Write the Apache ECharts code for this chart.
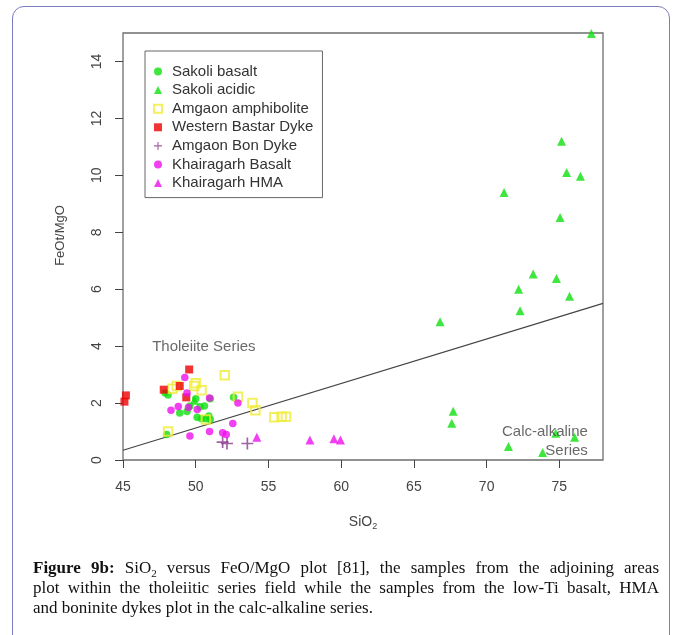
<!DOCTYPE html>
<html>
<head>
<meta charset="utf-8">
<script src="https://cdn.jsdelivr.net/npm/echarts@6/dist/echarts.min.js"></script>
<style>
  html, body { margin: 0; padding: 0; background: #fff; }
  #frame { position: absolute; left: 12px; top: 6px; width: 656px; height: 680px;
           border: 1px solid #7c7cc0; border-radius: 12px; }
  #chart { position: absolute; left: 0; top: 0; width: 678px; height: 635px; }
  #caption { position: absolute; left: 33px; top: 558px; width: 626px;
             font-family: 'Liberation Serif', serif; font-size: 17px; line-height: 20px; color: #111; }
  #caption .jl { text-align: justify; text-align-last: justify; }
  #caption sub { font-size: 11px; line-height: 0; vertical-align: -4px; }
</style>
</head>
<body>
<div id="frame"></div>
<div id="chart"></div>
<div id="caption">
  <div class="jl"><b>Figure 9b:</b> SiO<sub>2</sub> versus FeO/MgO plot [81], the samples from the adjoining areas</div>
  <div class="jl">plot within the tholeiitic series field while the samples from the low-Ti basalt, HMA</div>
  <div>and boninite dykes plot in the calc-alkaline series.</div>
</div>
<script>
  // axis ticks
  var xTicks = [45, 50, 55, 60, 65, 70, 75];
  var yTicks = [0, 2, 4, 6, 8, 10, 12, 14];

  // [SiO2, FeOt/MgO]
  var sakoliBasalt = [[47.9, 2.35], [48.1, 2.28], [48.9, 1.65], [49.4, 1.7], [49.6, 1.9],
    [50.1, 1.5], [50.4, 1.45], [50.6, 1.9], [50.7, 1.45], [51.0, 1.42], [51.0, 2.15],
    [50.0, 2.15], [52.6, 2.2], [48.0, 0.9], [50.3, 1.87], [50.9, 1.55]];
  var sakoliAcidic = [[77.2, 14.98], [75.15, 11.2], [75.5, 10.1], [76.45, 9.97], [71.2, 9.4],
    [75.05, 8.52], [73.2, 6.53], [74.8, 6.38], [72.2, 6.0], [75.7, 5.75], [72.3, 5.24],
    [66.8, 4.86], [67.7, 1.71], [67.6, 1.29], [71.5, 0.47], [73.85, 0.26], [74.75, 0.94],
    [76.05, 0.8], [49.9, 2.1]];
  var amgaonAmphibolite = [[48.1, 1.0], [48.4, 2.5], [48.7, 2.6], [49.9, 2.6], [50.0, 2.7],
    [50.4, 2.45], [50.7, 1.42], [52.0, 2.98], [52.9, 2.22], [53.9, 2.0], [54.1, 1.75],
    [55.4, 1.5], [55.9, 1.52], [56.2, 1.52]];
  var westernBastar = [[45.1, 2.05], [45.2, 2.27], [47.8, 2.47], [48.9, 2.6], [49.55, 3.18],
    [49.35, 2.2]];
  var amgaonBon = [[51.85, 0.63], [52.15, 0.58], [53.55, 0.58]];
  var khairagarhBasalt = [[49.25, 2.9], [49.4, 2.35], [48.3, 1.75], [48.8, 1.88], [49.5, 1.84],
    [50.1, 1.77], [50.95, 2.18], [52.9, 2.0], [52.55, 1.28], [50.95, 1.0], [49.6, 0.84],
    [51.85, 0.96], [52.1, 0.9]];
  var khairagarhHMA = [[54.2, 0.8], [57.85, 0.7], [59.5, 0.75], [59.95, 0.7]];

  // tholeiite / calc-alkaline divide
  var divideLine = [[45, 0.344], [78, 5.5]];

  var noteText = ['Tholeiite Series', 'Calc-alkaline', 'Series'];
  var notePos = [[50.56, 3.96], [76.96, 0.99], [76.96, 0.33]];

  var names = ['Sakoli basalt', 'Sakoli acidic', 'Amgaon amphibolite', 'Western Bastar Dyke',
    'Amgaon Bon Dyke', 'Khairagarh Basalt', 'Khairagarh HMA'];

  var font = 'Liberation Sans, Arial, sans-serif';
  var plusPath = 'path://M4.3,0H5.7V4.3H10V5.7H5.7V10H4.3V5.7H0V4.3H4.3Z';

  var chart = echarts.init(document.getElementById('chart'));

  function pts(name, data, symbol, size, style) {
    return {
      name: name,
      type: 'scatter',
      data: data,
      symbol: symbol,
      symbolSize: size,
      itemStyle: style,
      emphasis: { disabled: true }
    };
  }

  var option = {
    backgroundColor: 'transparent',
    animation: false,
    grid: { left: 123, right: 75, top: 33, bottom: 175, show: true,
      borderColor: '#6e6e6e', borderWidth: 1.3, backgroundColor: 'transparent' },
    xAxis: {
      type: 'value', min: 45, max: 78,
      axisLine: { show: false },
      splitLine: { show: false },
      axisTick: { show: true, length: 8, customValues: xTicks, lineStyle: { color: '#444' } },
      axisLabel: { customValues: xTicks, fontSize: 14, color: '#444', fontFamily: font, margin: 20 },
      name: 'SiO{s|2}', nameLocation: 'middle', nameGap: 54,
      nameTextStyle: { fontSize: 14, color: '#444', fontFamily: font,
        rich: { s: { fontSize: 9, color: '#444', fontFamily: font, padding: [8, 0, 0, 0] } } }
    },
    yAxis: {
      type: 'value', min: 0, max: 15,
      axisLine: { show: false },
      splitLine: { show: false },
      axisTick: { show: true, length: 8, customValues: yTicks, lineStyle: { color: '#444' } },
      axisLabel: { customValues: yTicks, fontSize: 14, color: '#444', fontFamily: font,
        rotate: 90, margin: 19 },
      name: 'FeOt/MgO', nameLocation: 'middle', nameGap: 56, nameRotate: 90,
      nameTextStyle: { fontSize: 13, color: '#444', fontFamily: font, padding: [0, 0, 0, 22] }
    },
    legend: {
      data: names,
      orient: 'vertical',
      left: 145, top: 51,
      padding: [13, 9, 7, 8],
      itemWidth: 8, itemHeight: 8, itemGap: 3.6,
      borderColor: '#666', borderWidth: 1,
      selectedMode: false,
      textStyle: { fontSize: 15, color: '#333', fontFamily: font, lineHeight: 14,
        padding: [0, 0, 0, 5] }
    },
    series: [
      {
        name: 'divide', type: 'line', data: divideLine, symbol: 'none', silent: true,
        lineStyle: { color: '#444', width: 1.2 }, z: 1
      },
      pts(names[0], sakoliBasalt, 'circle', 7.5, { color: '#10e010' }),
      pts(names[1], sakoliAcidic, 'triangle', 9, { color: '#10e010' }),
      pts(names[2], amgaonAmphibolite, 'rect', 8.5,
        { color: 'rgba(0,0,0,0)', borderColor: '#f0ec38', borderWidth: 2 }),
      pts(names[3], westernBastar, 'rect', 8, { color: '#ee0000' }),
      pts(names[4], amgaonBon, plusPath, 12, { color: '#8b3a8b' }),
      pts(names[5], khairagarhBasalt, 'circle', 7.5, { color: '#ee10ee' }),
      pts(names[6], khairagarhHMA, 'triangle', 9, { color: '#ee10ee' }),
      {
        name: 'notes', type: 'scatter', silent: true, symbolSize: 0,
        data: notePos.map(function (p, i) {
          return {
            value: p,
            label: {
              show: true, formatter: noteText[i],
              position: i === 0 ? 'inside' : 'left', distance: 0,
              fontSize: 15, color: '#444', fontFamily: font
            }
          };
        })
      }
    ]
  };

  chart.setOption(option);
</script>
</body>
</html>
